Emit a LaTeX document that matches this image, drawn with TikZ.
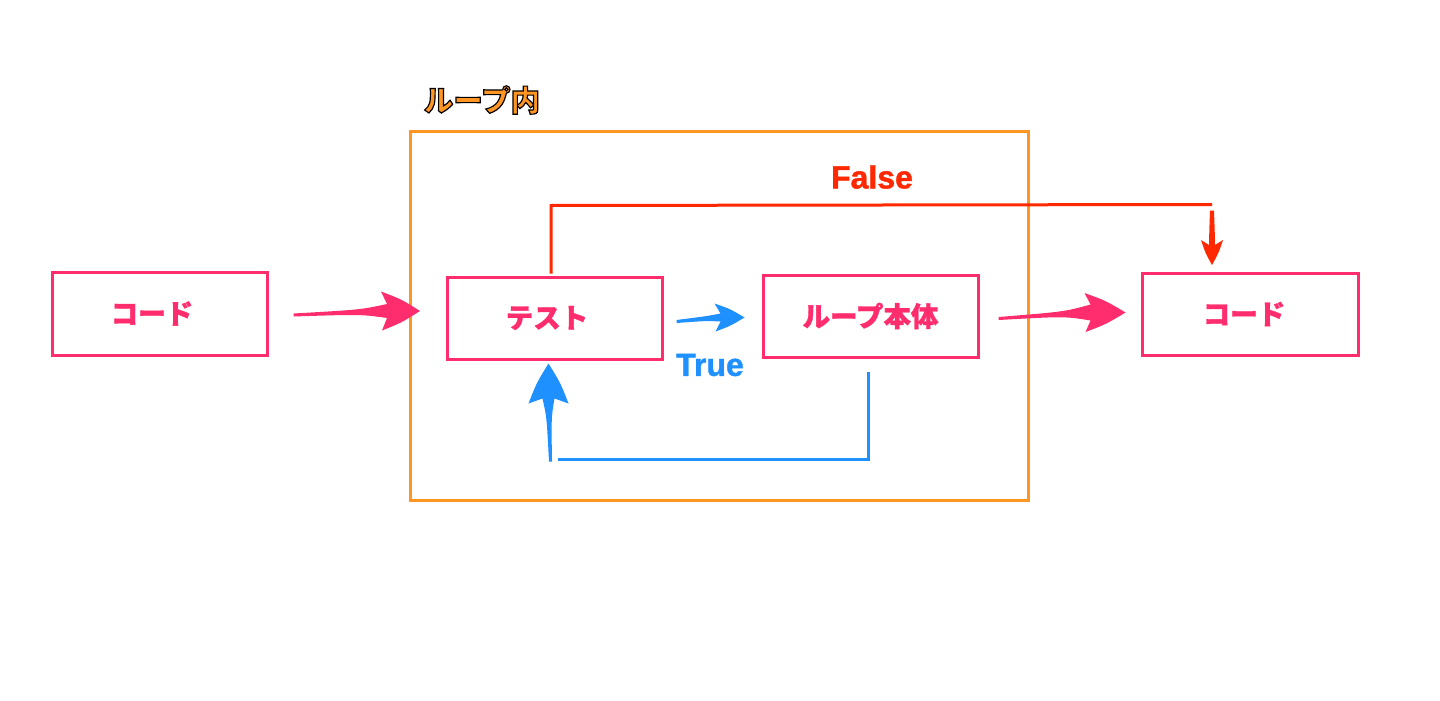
\documentclass[tikz,border=0pt]{standalone}
\usepackage{fontspec}
\setmainfont{Liberation Sans}[BoldFeatures={FakeBold=1.2}]
\newfontfamily\cjk{Noto Sans CJK JP}[BoldFeatures={FakeBold=1.2}]
\newfontfamily\cjkout{Noto Sans CJK JP}[BoldFeatures={FakeBold=4}]
\usetikzlibrary{calc}
\definecolor{pinkc}{RGB}{255,45,110}
\definecolor{orangec}{RGB}{255,150,35}
\definecolor{redc}{RGB}{255,40,0}
\definecolor{bluec}{RGB}{30,144,255}
% horizontal fat arrow pointing right: #1 colour, #2 tail, #3 tip, #4 head length, #5 head half width, #6 neck half width, #7 tail half width
\newcommand{\fatright}[7]{%
  \fill[#1] ($(#2)+(0,-#7)$)
    .. controls ($($(#2)!0.75!($(#3)+(-#4,0)$)$)+(0,-#7-0.8)$) .. ($(#3)+(-#4+4,-#6)$)
    -- ($(#3)+(-#4-2,-#5)$)
    .. controls ($(#3)+(-#4*0.5,-#5*0.6)$) .. (#3)
    .. controls ($(#3)+(-#4*0.5,#5*0.6)$) .. ($(#3)+(-#4-1,#5)$)
    -- ($(#3)+(-#4+4,#6)$)
    .. controls ($($(#2)!0.75!($(#3)+(-#4,0)$)$)+(0,#7+0.8)$) .. ($(#2)+(0,#7)$) -- cycle;}
% vertical fat arrow: #8 = 1 pointing up, -1 pointing down
\newcommand{\fatvert}[8]{%
  \fill[#1] ($(#2)+(-#7,0)$)
    .. controls ($($(#2)!0.75!($(#3)+(0,#8*#4)$)$)+(-#7-0.8,0)$) .. ($(#3)+(-#6,#8*#4-#8*4)$)
    -- ($(#3)+(-#5,#8*#4+#8*1)$)
    .. controls ($(#3)+(-#5*0.6,#8*#4*0.5)$) .. (#3)
    .. controls ($(#3)+(#5*0.6,#8*#4*0.5)$) .. ($(#3)+(#5,#8*#4+#8*1)$)
    -- ($(#3)+(#6,#8*#4-#8*4)$)
    .. controls ($($(#2)!0.75!($(#3)+(0,#8*#4)$)$)+(#7+0.8,0)$) .. ($(#2)+(#7,0)$) -- cycle;}
\newcommand{\padr}[1]{\rule{#1}{0pt}}
\tikzset{
  box/.style={draw=pinkc, line width=3pt, minimum width=215pt, minimum height=82pt, inner sep=0pt, fill=white,
    text=pinkc, font=\cjk\bfseries\fontsize{27.5}{28}\selectfont},
  frame/.style={draw=orangec, line width=3pt, minimum width=618pt, minimum height=369pt, inner sep=0pt},
  lbl/.style={inner sep=0pt, font=\bfseries\fontsize{32}{32}\selectfont},
  redline/.style={draw=redc, line width=3pt},
  blueline/.style={draw=bluec, line width=3pt},
}
\begin{document}
\begin{tikzpicture}[x=1pt,y=-1pt]
\useasboundingbox (0,0) rectangle (1440,701);
\node[frame] (loop) at (719,315.5) {};
\node[inner sep=0pt, font=\cjkout\bfseries\fontsize{29.5}{30}\selectfont] (looplbl) at (482,100)
  {\color{orangec}\special{pdf:literal direct 0 0 0 RG}ループ内};
\node[box, minimum height=83pt] (code1) at (159.5,313.5) {コード\padr{15pt}};
\node[box] (test) at (554.5,318) {テスト\padr{15pt}};
\node[box] (body) at (870.5,316) {ループ本体};
\node[box, minimum width=216pt] (code2) at (1250,314) {コード\padr{12pt}};
\node[lbl, text=redc] (false) at (872,177) {False};
\node[lbl, text=bluec] (true) at (710,365) {True};
% coordinates for connectors
\coordinate (a1s) at ($(code1.east)+(25,1.5)$);
\coordinate (a1t) at ($(test.west)+(-25.5,-7)$);
\coordinate (a2s) at ($(test.east)+(13,3.5)$);
\coordinate (a2t) at ($(body.west)+(-17,1.5)$);
\coordinate (a3s) at ($(body.east)+(19,2.5)$);
\coordinate (a3t) at ($(code2.west)+(-15,-1.5)$);
\coordinate (r0) at ($(test.north)+(-3.5,-2)$);
\coordinate (r1) at ($(test.north)+(-3.5,-70)$);
\coordinate (r2) at ($(code2.north)+(-38,-67)$);
\coordinate (r3) at ($(code2.north)+(-38,-61)$);
\coordinate (r4) at ($(code2.north)+(-38,-6.5)$);
\coordinate (b0) at ($(body.south)+(-2.5,13)$);
\coordinate (b1) at ($(body.south)+(-2.5,100.5)$);
\coordinate (b2) at ($(test.south)+(3,98.5)$);
\coordinate (b3) at ($(test.south)+(-4,101)$);
\coordinate (b4) at ($(test.south)+(-6,3)$);
% connectors
\fatright{pinkc}{a1s}{a1t}{37}{19.5}{7}{1.5}
\fatright{bluec}{a2s}{a2t}{28}{14}{4}{1.5}
\fatright{pinkc}{a3s}{a3t}{39}{19.5}{8}{1.5}
\draw[redline] (r0) -- (r1) -- (r2);
\fatvert{redc}{r3}{r4}{24}{11}{3}{2}{-1}
\draw[blueline] (b0) -- (b1) -- (b2);
\fatvert{bluec}{b3}{b4}{39}{20}{6}{1.5}{1}
\end{tikzpicture}
\end{document}
